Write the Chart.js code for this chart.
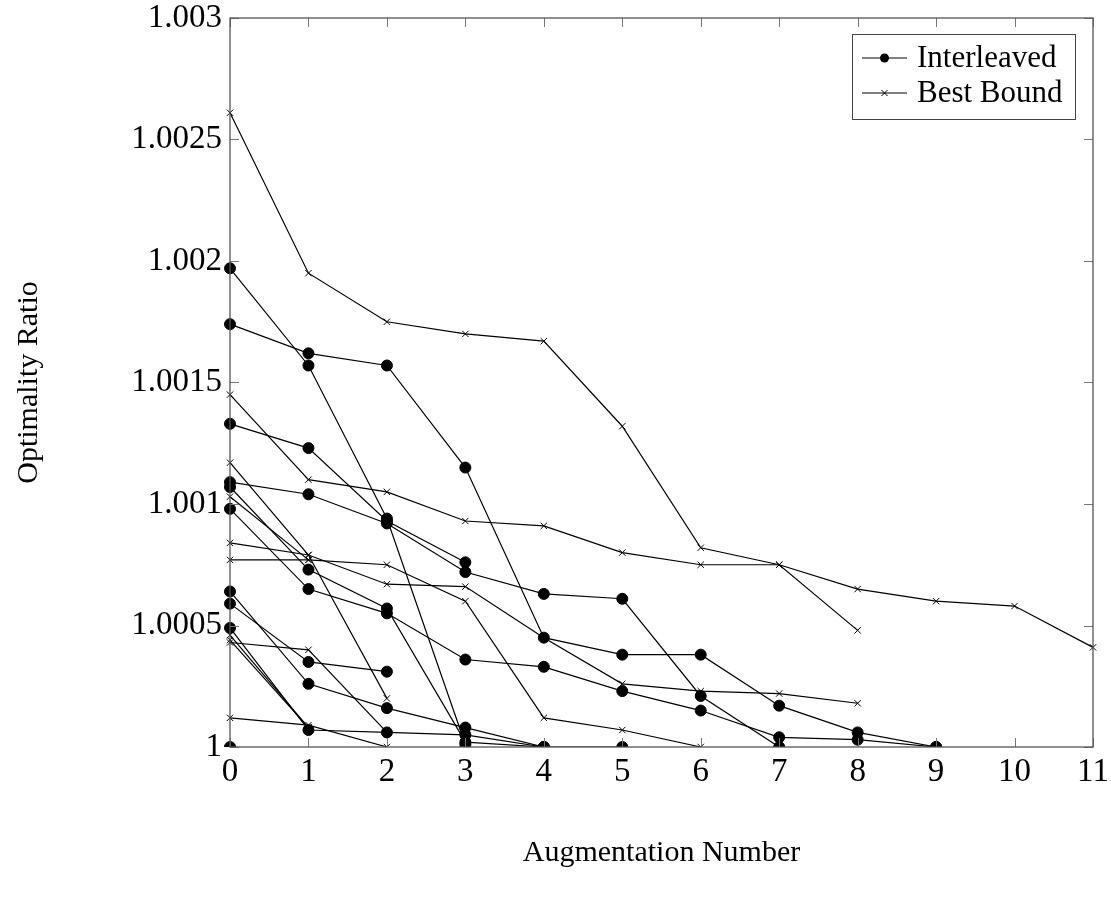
<!DOCTYPE html>
<html>
<head>
<meta charset="utf-8">
<script src="https://cdn.jsdelivr.net/npm/chart.js@4.4.0/dist/chart.umd.min.js"></script>
<style>
  body { margin: 0; background: #fff; }
  #wrap { width: 1111px; height: 902px; }
</style>
</head>
<body>
<div id="wrap"><canvas id="myChart"></canvas></div>
<script>
// augmentation numbers on the x axis
var augmentation = [0, 1, 2, 3, 4, 5, 6, 7, 8, 9, 10, 11];
var yTicks = [1, 1.0005, 1.001, 1.0015, 1.002, 1.0025, 1.003];

// Interleaved runs (dots)
var il1 = [1.00197, 1.00157, 1.00094, 1.00001];
var il2 = [1.00174, 1.00162, 1.00157, 1.00115, 1.00045, 1.00038, 1.00038, 1.00017, 1.00006, 1.0];
var il3 = [1.00133, 1.00123, 1.00093, 1.00076];
var il4 = [1.00109, 1.00104, 1.00092, 1.00072, 1.00063, 1.00061, 1.00021, 1.0];
var il5 = [1.00107, 1.00073, 1.00057, 1.00002, 1.0, 1.0];
var il6 = [1.00098, 1.00065, 1.00055, 1.00036, 1.00033, 1.00023, 1.00015, 1.00004, 1.00003, 1.0];
var il7 = [1.00064, 1.00026, 1.00016, 1.00008, 1.0];
var il8 = [1.00059, 1.00035, 1.00031];
var il9 = [1.00049, 1.00007, 1.00006, 1.00005, 1.0];
var il10 = [1.0];

// Best Bound runs (crosses)
var bb1 = [1.00261, 1.00195, 1.00175, 1.0017, 1.00167, 1.00132, 1.00082, 1.00075, 1.00065, 1.0006, 1.00058, 1.00041];
var bb2 = [1.00145, 1.0011, 1.00105, 1.00093, 1.00091, 1.0008, 1.00075, 1.00075, 1.00048];
var bb3 = [1.00117, 1.00079, 1.0002];
var bb4 = [1.00103, 1.00077];
var bb5 = [1.00084, 1.00079, 1.00067, 1.00066, 1.00045, 1.00026, 1.00023, 1.00022, 1.00018];
var bb6 = [1.00077, 1.00077, 1.00075, 1.0006, 1.00012, 1.00007, 1.0];
var bb7 = [1.00046, 1.00008];
var bb8 = [1.00043, 1.0004, 1.00006];
var bb9 = [1.00044, 1.00008];
var bb10 = [1.00012, 1.00009, 1.0];

var interleaved = [il1, il2, il3, il4, il5, il6, il7, il8, il9, il10];
var bestBound = [bb1, bb2, bb3, bb4, bb5, bb6, bb7, bb8, bb9, bb10];

var FONT = "'Liberation Serif', 'DejaVu Serif', serif";

function runSet(run, label, style) {
  return {
    label: label,
    data: run,
    borderColor: "#000",
    borderWidth: 1.2,
    backgroundColor: "#000",
    pointStyle: style,
    pointRadius: style === "circle" ? 5.5 : 4.5,
    pointBorderWidth: 1,
    pointBorderColor: "#000",
    pointBackgroundColor: "#000",
    tension: 0,
    fill: false,
  };
}

var datasets = [];
bestBound.forEach(function (r) { datasets.push(runSet(r, "Best Bound", "crossRot")); });
interleaved.forEach(function (r) { datasets.push(runSet(r, "Interleaved", "circle")); });

// frame, inward ticks and the legend box
var framePlugin = {
  id: "frame",
  afterDatasetsDraw: function (chart) {
    var ctx = chart.ctx, a = chart.chartArea;
    var xs = chart.scales.x, ys = chart.scales.y;
    var tl = 9;
    ctx.save();
    ctx.strokeStyle = "#777";
    ctx.lineWidth = 1;
    ctx.beginPath();
    augmentation.forEach(function (v, i) {
      var px = Math.round(xs.getPixelForValue(i)) + 0.5;
      ctx.moveTo(px, a.bottom); ctx.lineTo(px, a.bottom - tl);
      ctx.moveTo(px, a.top); ctx.lineTo(px, a.top + tl);
    });
    yTicks.forEach(function (v) {
      var py = Math.round(ys.getPixelForValue(v)) + 0.5;
      ctx.moveTo(a.left, py); ctx.lineTo(a.left + tl, py);
      ctx.moveTo(a.right, py); ctx.lineTo(a.right - tl, py);
    });
    ctx.stroke();
    ctx.strokeStyle = "#555";
    ctx.lineWidth = 1.3;
    ctx.strokeRect(a.left, a.top, a.right - a.left, a.bottom - a.top);

    // legend
    var bx = 852.5, by = 34.5, bw = 223, bh = 85;
    ctx.fillStyle = "#fff";
    ctx.fillRect(bx, by, bw, bh);
    ctx.strokeStyle = "#444";
    ctx.lineWidth = 1;
    ctx.strokeRect(bx, by, bw, bh);
    ctx.strokeStyle = "#000";
    ctx.fillStyle = "#000";
    ctx.lineWidth = 1.2;
    var rows = [58, 93];
    rows.forEach(function (ry) {
      ctx.beginPath(); ctx.moveTo(862, ry); ctx.lineTo(907, ry); ctx.stroke();
    });
    ctx.beginPath(); ctx.arc(884.5, rows[0], 4.5, 0, Math.PI * 2); ctx.fill();
    ctx.beginPath();
    ctx.moveTo(881.5, rows[1] - 3); ctx.lineTo(887.5, rows[1] + 3);
    ctx.moveTo(881.5, rows[1] + 3); ctx.lineTo(887.5, rows[1] - 3);
    ctx.lineWidth = 1; ctx.stroke();
    ctx.font = "31px " + FONT;
    ctx.textBaseline = "middle";
    ctx.textAlign = "left";
    ctx.fillText("Interleaved", 917, rows[0] + 1);
    ctx.fillText("Best Bound", 917, rows[1] + 1);
    ctx.restore();
  },
};

new Chart(document.getElementById("myChart"), {
  type: "line",
  data: {
    labels: augmentation.map(String),
    datasets: datasets,
  },
  plugins: [framePlugin],
  options: {
    responsive: true,
    maintainAspectRatio: false,
    animation: false,
    layout: { padding: { left: 0, right: 18, top: 18, bottom: 0 } },
    plugins: {
      legend: { display: false },
      tooltip: { enabled: false },
    },
    scales: {
      x: {
        type: "category",
        offset: false,
        grid: { display: false, drawTicks: false },
        border: { display: false },
        ticks: {
          autoSkip: false,
          maxRotation: 0,
          padding: 9,
          color: "#000",
          font: { family: FONT, size: 33, lineHeight: 1 },
        },
        title: {
          display: true,
          text: "Augmentation Number",
          color: "#000",
          font: { family: FONT, size: 30 },
          padding: { top: 0, bottom: 31 },
        },
        afterFit: function (scale) {
          scale.height = 155;
          scale.paddingLeft = 0;
          scale.paddingRight = 0;
        },
      },
      y: {
        min: 1,
        max: 1.003,
        grid: { display: false, drawTicks: false },
        border: { display: false },
        ticks: {
          stepSize: 0.0005,
          padding: 8,
          color: "#000",
          font: { family: FONT, size: 33, lineHeight: 1 },
          callback: function (v) { return String(Number(v.toFixed(4))); },
        },
        title: {
          display: true,
          text: "Optimality Ratio",
          color: "#000",
          font: { family: FONT, size: 30 },
          padding: { top: 11, bottom: 0 },
        },
        afterFit: function (scale) {
          scale.width = 230;
          scale.paddingTop = 0;
          scale.paddingBottom = 0;
        },
      },
    },
  },
});
</script>
</body>
</html>
